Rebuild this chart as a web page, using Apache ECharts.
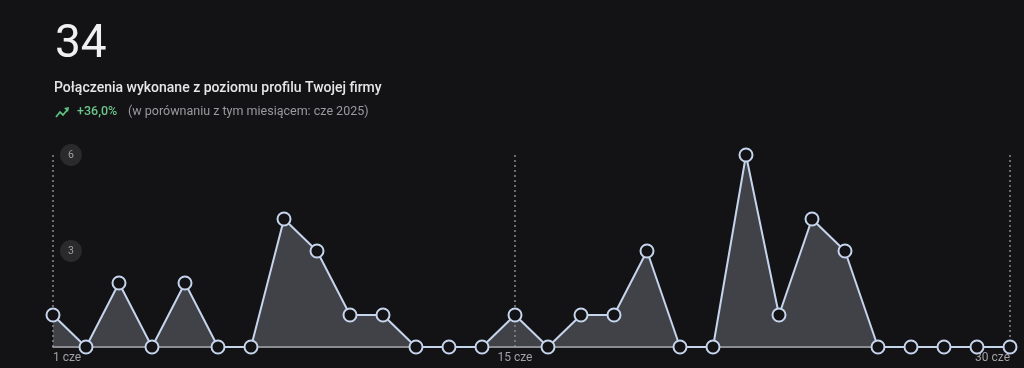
<!DOCTYPE html>
<html>
<head>
<meta charset="utf-8">
<script src="https://cdn.jsdelivr.net/npm/echarts@6/dist/echarts.min.js"></script>
<style>
html,body{margin:0;padding:0;background:#131316;}
#c{width:1024px;height:368px;}
</style>
</head>
<body>
<div id="c"></div>
<script>
const days = ['1 cze','2 cze','3 cze','4 cze','5 cze','6 cze','7 cze','8 cze','9 cze','10 cze','11 cze','12 cze','13 cze','14 cze','15 cze','16 cze','17 cze','18 cze','19 cze','20 cze','21 cze','22 cze','23 cze','24 cze','25 cze','26 cze','27 cze','28 cze','29 cze','30 cze'];
const calls = [1,0,2,0,2,0,0,4,3,1,1,0,0,0,1,0,1,1,3,0,0,6,1,4,3,0,0,0,0,0];
const shownLabels = [0,14,29];
const yTicks = [0,3,6];
const totalText = '34';
const subtitle = 'Połączenia wykonane z poziomu profilu Twojej firmy';
const changeText = '+36,0%';
const compareText = '(w porównaniu z tym miesiącem: cze 2025)';

const chart = echarts.init(document.getElementById('c'));
const lineColor = '#c6d4ec';
chart.setOption({
  backgroundColor: '#131316',
  animation: false,
  grid: {left: 53, right: 14, top: 155, bottom: 21, containLabel: false},
  xAxis: {
    type: 'category',
    data: days,
    boundaryGap: false,
    axisLine: {show: true, lineStyle: {color: '#b8b8bc', width: 1.5}},
    axisTick: {show: false},
    axisLabel: {
      interval: (i) => shownLabels.includes(i),
      color: '#a2a2a6',
      fontSize: 12,
      fontFamily: 'Roboto',
      margin: 5,
      alignMinLabel: 'left',
      alignMaxLabel: 'right'
    },
    splitLine: {
      show: true,
      interval: (i) => shownLabels.includes(i),
      lineStyle: {color: '#8a8a8e', type: [2, 3], width: 1.5}
    }
  },
  yAxis: {
    type: 'value',
    min: yTicks[0],
    max: yTicks[yTicks.length - 1],
    interval: 3,
    axisLine: {show: false},
    axisTick: {show: false},
    splitLine: {show: false},
    axisLabel: {
      inside: true,
      showMinLabel: false,
      margin: 7,
      color: '#a0a0a4',
      fontSize: 10.5,
      fontFamily: 'Roboto',
      backgroundColor: '#2a2a2d',
      borderRadius: 11,
      padding: [6, 8, 5, 8]
    }
  },
  series: [{
    type: 'line',
    data: calls,
    symbol: 'circle',
    symbolSize: 13,
    showAllSymbol: true,
    lineStyle: {color: lineColor, width: 2},
    itemStyle: {color: '#131316', borderColor: lineColor, borderWidth: 2},
    areaStyle: {color: 'rgba(130,135,145,0.58)'},
    z: 5
  }],
  graphic: [
    {type: 'text', left: 55, top: 22, style: {text: totalText, fill: '#f0f0f0', font: '46px Roboto'}},
    {type: 'text', left: 54, top: 81, style: {text: subtitle, fill: '#e6e6e6', font: '500 14px Roboto'}},
    {type: 'polyline', shape: {points: [[56,117],[60,112],[63,115],[68,109]]}, style: {stroke: '#5fbf7f', lineWidth: 1.8, fill: null}},
    {type: 'polygon', shape: {points: [[64,108],[69,107],[68,112]]}, style: {fill: '#5fbf7f'}},
    {type: 'text', left: 77, top: 105, style: {text: changeText, fill: '#6cc58a', font: '500 12.5px Roboto'}},
    {type: 'text', left: 128, top: 105, style: {text: compareText, fill: '#9a9a9e', font: '12.5px Roboto'}}
  ]
});
</script>
</body>
</html>
